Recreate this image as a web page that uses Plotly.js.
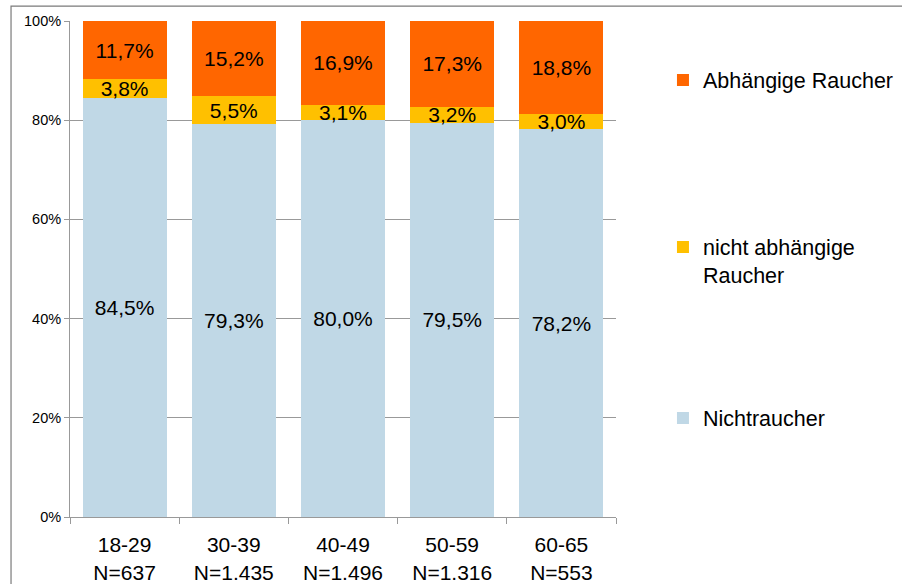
<!DOCTYPE html>
<html>
<head>
<meta charset="utf-8">
<script src="https://cdn.plot.ly/plotly-3.0.1.min.js"></script>
<style>html,body{margin:0;padding:0;background:#fff;}#chart{width:902px;height:584px;}</style>
</head>
<body>
<div id="chart"></div>
<script>
const categories = ["18-29<br>N=637", "30-39<br>N=1.435", "40-49<br>N=1.496", "50-59<br>N=1.316", "60-65<br>N=553"];
const nichtraucher = [84.5, 79.3, 80.0, 79.5, 78.2];
const nichtAbhaengig = [3.8, 5.5, 3.1, 3.2, 3.0];
const abhaengig = [11.7, 15.2, 16.9, 17.3, 18.8];
const yTicks = [0, 20, 40, 60, 80, 100];
const yTickLabels = ["0%", "20%", "40%", "60%", "80%", "100%"];

const FONT = "Liberation Sans, Arial, sans-serif";
const fmt = v => v.toFixed(1).replace('.', ',') + '%';

function bar(name, vals, color, legendId) {
  return {
    type: 'bar', name: name, x: categories, y: vals,
    marker: {color: color, line: {width: 0}},
    text: vals.map(fmt), textposition: 'inside', insidetextanchor: 'middle',
    constraintext: 'none', cliponaxis: false,
    textfont: {family: FONT, size: 21, color: '#000'},
    hoverinfo: 'skip', legend: legendId
  };
}

const data = [
  bar('Nichtraucher', nichtraucher, '#C0D8E6', 'legend3'),
  bar('nicht abhängige<br>Raucher', nichtAbhaengig, '#FFC000', 'legend2'),
  bar('Abhängige Raucher', abhaengig, '#FF6600', 'legend')
];

const legBase = {xref: 'container', yref: 'container', xanchor: 'left', yanchor: 'middle', x: 0.735,
  bgcolor: 'rgba(0,0,0,0)', font: {family: FONT, size: 21.5, color: '#000'}, itemwidth: 30, valign: 'top'};

const layout = {
  width: 902, height: 584,
  margin: {l: 70, r: 286, t: 21, b: 67, autoexpand: false},
  barmode: 'stack', bargap: 0.23,
  paper_bgcolor: '#fff', plot_bgcolor: '#fff',
  font: {family: FONT, color: '#000'},
  showlegend: true,
  legend: Object.assign({}, legBase, {y: 1 - 80 / 584}),
  legend2: Object.assign({}, legBase, {y: 1 - 261 / 584}),
  legend3: Object.assign({}, legBase, {y: 1 - 418 / 584}),
  xaxis: {
    type: 'category', showline: true, linecolor: '#999', linewidth: 1,
    ticks: 'outside', tickson: 'boundaries', ticklen: 6, tickcolor: '#999',
    ticklabelstandoff: 9,
    tickfont: {family: FONT, size: 21, color: '#000'}, showgrid: false
  },
  yaxis: {
    range: [0, 100], tickvals: yTicks, ticktext: yTickLabels,
    showline: true, linecolor: '#999', linewidth: 1,
    ticks: 'outside', ticklen: 5, tickcolor: '#999',
    showgrid: true, gridcolor: '#999', gridwidth: 1, zeroline: false,
    tickfont: {family: FONT, size: 14.5, color: '#000'}
  },
  shapes: [{
    type: 'rect', xref: 'paper', yref: 'paper',
    x0: -0.108, x1: 1.6, y0: -0.2, y1: 1.030,
    line: {color: '#7a7a7a', width: 1.2}, fillcolor: 'rgba(0,0,0,0)', layer: 'below'
  }]
};

Plotly.newPlot('chart', data, layout, {displayModeBar: false, staticPlot: true});
</script>
</body>
</html>
